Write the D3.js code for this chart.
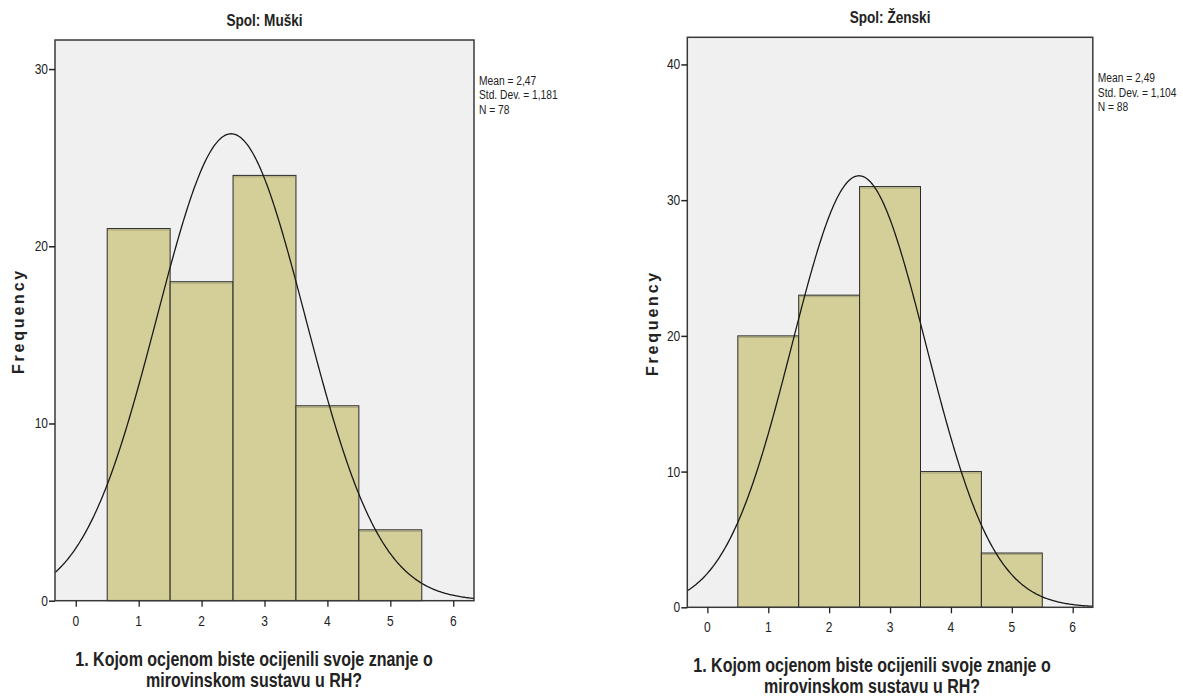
<!DOCTYPE html>
<html>
<head>
<meta charset="utf-8">
<script src="https://cdn.jsdelivr.net/npm/d3@7"></script>
<style>
  body { margin: 0; background: #fff; }
  text { font-family: "Liberation Sans", Arial, sans-serif; fill: #222; }
</style>
</head>
<body>
<svg id="chart" width="1183" height="697"></svg>
<script>
// ratings 1..5 (bin centres)
const ratings = [1, 2, 3, 4, 5];
const xTicks = [0, 1, 2, 3, 4, 5, 6];

const muskiCounts = [21, 18, 24, 11, 4];
const muskiStats = { mean: 2.47, sd: 1.181, n: 78 };
const muskiYTicks = [0, 10, 20, 30];

const zenskiCounts = [20, 23, 31, 10, 4];
const zenskiStats = { mean: 2.49, sd: 1.104, n: 88 };
const zenskiYTicks = [0, 10, 20, 30, 40];

const xLabel = ["1. Kojom ocjenom biste ocijenili svoje znanje o", "mirovinskom sustavu u RH?"];

const NARROW = 0.8; // no Arial Narrow installed, squeeze Liberation Sans instead

const svg = d3.select("#chart");

// place a horizontally squeezed text group at x,y
function narrowG(parent, x, y, k = NARROW) {
  return parent.append("g").attr("transform", `translate(${x},${y}) scale(${k},1)`);
}

function drawPanel(p) {
  const g = svg.append("g");
  const x = d3.scaleLinear().domain([-0.33, 6.33]).range([p.left, p.right]);
  const y = d3.scaleLinear().domain([0, p.yMax]).range([p.bottom, p.top]);

  // plot background
  g.append("rect")
    .attr("x", p.left).attr("y", p.top)
    .attr("width", p.right - p.left).attr("height", p.bottom - p.top)
    .attr("fill", "#f0f0f0");

  const clipId = "clip-" + p.id;
  g.append("clipPath").attr("id", clipId)
    .append("rect")
    .attr("x", p.left).attr("y", p.top)
    .attr("width", p.right - p.left).attr("height", p.bottom - p.top);

  const data = ratings.map((r, i) => ({ r, v: p.counts[i] }));

  g.selectAll("rect.bar")
    .data(data)
    .join("rect")
    .attr("class", "bar")
    .attr("x", (d) => x(d.r - 0.5))
    .attr("y", (d) => y(d.v))
    .attr("width", (d) => x(d.r + 0.5) - x(d.r - 0.5))
    .attr("height", (d) => y(0) - y(d.v))
    .attr("fill", "#d4cf98")
    .attr("stroke", "#2a2a2a")
    .attr("stroke-width", 1);

  // light line just under bar tops
  g.selectAll("line.hl")
    .data(data)
    .join("line")
    .attr("class", "hl")
    .attr("x1", (d) => x(d.r - 0.5) + 1)
    .attr("x2", (d) => x(d.r + 0.5) - 1)
    .attr("y1", (d) => y(d.v) + 1.5)
    .attr("y2", (d) => y(d.v) + 1.5)
    .attr("stroke", "#a9a680")
    .attr("stroke-width", 1);

  // normal curve scaled to counts (bin width 1)
  const { mean, sd, n } = p.stats;
  const pdf = (t) => n / (sd * Math.sqrt(2 * Math.PI)) * Math.exp(-0.5 * ((t - mean) / sd) ** 2);
  const pts = d3.range(-0.33, 6.34, 0.02).map((t) => [t, pdf(t)]);
  g.append("path")
    .attr("clip-path", `url(#${clipId})`)
    .attr("d", d3.line().x((d) => x(d[0])).y((d) => y(d[1]))(pts))
    .attr("fill", "none")
    .attr("stroke", "#1a1a1a")
    .attr("stroke-width", 1.3);

  // frame
  g.append("rect")
    .attr("x", p.left).attr("y", p.top)
    .attr("width", p.right - p.left).attr("height", p.bottom - p.top)
    .attr("fill", "none")
    .attr("stroke", "#3a3a3a")
    .attr("stroke-width", 1.5);

  // axes: ticks only, labels squeezed separately
  const xAxis = g.append("g")
    .attr("transform", `translate(0,${p.bottom})`)
    .call(d3.axisBottom(x).tickValues(xTicks).tickSize(6).tickFormat("").tickSizeOuter(0));
  xAxis.select(".domain").remove();
  xAxis.selectAll("line").attr("stroke", "#222").attr("stroke-width", 1.3);
  xTicks.forEach((t) => {
    narrowG(g, x(t), p.bottom + 25).append("text")
      .attr("text-anchor", "middle").attr("font-size", 15).text(d3.format("d")(t));
  });

  const yAxis = g.append("g")
    .attr("transform", `translate(${p.left},0)`)
    .call(d3.axisLeft(y).tickValues(p.yTicks).tickSize(6).tickFormat("").tickSizeOuter(0));
  yAxis.select(".domain").remove();
  yAxis.selectAll("line").attr("stroke", "#222").attr("stroke-width", 1.5);
  p.yTicks.forEach((t) => {
    narrowG(g, p.left - 7, y(t) + 5).append("text")
      .attr("text-anchor", "end").attr("font-size", 15).text(d3.format("d")(t));
  });

  // title
  narrowG(g, (p.left + p.right) / 2, p.top - 14).append("text")
    .attr("text-anchor", "middle")
    .attr("font-size", 17).attr("font-weight", "bold")
    .text(p.title);

  // stats
  const fmt = (v, d) => v.toFixed(d).replace(".", ",");
  const statLines = [
    "Mean = " + fmt(mean, 2),
    "Std. Dev. = " + fmt(sd, 3),
    "N = " + n
  ];
  narrowG(g, p.right + 5, p.top + 45, 0.76).append("text")
    .attr("font-size", 13.5)
    .selectAll("tspan")
    .data(statLines)
    .join("tspan")
    .attr("x", 0)
    .attr("dy", (d, i) => (i === 0 ? 0 : 14.5))
    .text((d) => d);

  // y label
  g.append("text")
    .attr("transform", `translate(${p.yLabX},${p.yLabY}) rotate(-90)`)
    .attr("text-anchor", "middle")
    .attr("font-size", 16).attr("font-weight", "bold")
    .attr("letter-spacing", 2.8)
    .text("Frequency");

  // x label
  narrowG(g, p.xLabX, p.bottom + 65).append("text")
    .attr("text-anchor", "middle")
    .attr("font-size", 20).attr("font-weight", "bold")
    .selectAll("tspan")
    .data(xLabel)
    .join("tspan")
    .attr("x", 0)
    .attr("dy", (d, i) => (i === 0 ? 0 : 21))
    .text((d) => d);
}

drawPanel({
  id: "m", title: "Spol: Muški", counts: muskiCounts, stats: muskiStats, yTicks: muskiYTicks,
  left: 55, right: 474, top: 40, bottom: 600.7, yMax: 31.64, yLabX: 24, yLabY: 321, xLabX: 254
});

drawPanel({
  id: "z", title: "Spol: Ženski", counts: zenskiCounts, stats: zenskiStats, yTicks: zenskiYTicks,
  left: 687.3, right: 1092.8, top: 37.3, bottom: 607.3, yMax: 42.0, yLabX: 658, yLabY: 323, xLabX: 872
});
</script>
</body>
</html>
